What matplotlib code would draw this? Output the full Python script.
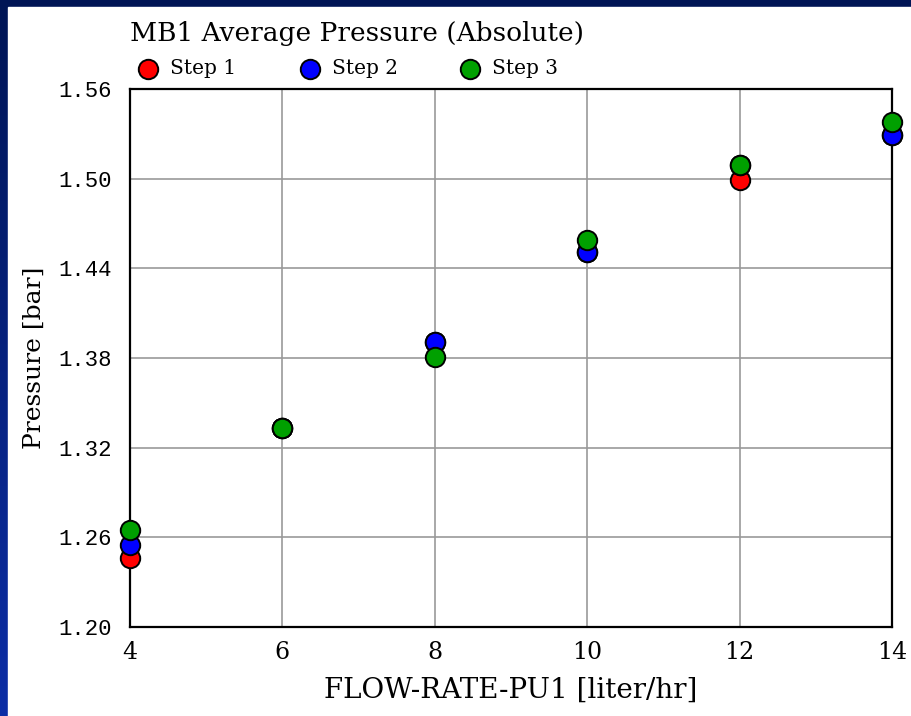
import matplotlib.pyplot as plt
import numpy as np
from matplotlib.patches import Rectangle
from matplotlib.colors import LinearSegmentedColormap

# flow rate [liter/hr] and pressure [bar] per step
flow = [4, 6, 8, 10, 12, 14]
step1 = [1.246, 1.333, 1.391, 1.451, 1.499, 1.529]
step2 = [1.255, 1.333, 1.391, 1.451, 1.509, 1.529]
step3 = [1.265, 1.333, 1.381, 1.459, 1.509, 1.538]
names = ['Step 1', 'Step 2', 'Step 3']
colors = ['#ff0000', '#0000ff', '#00a000']

W, H = 911, 716
fig = plt.figure(figsize=(W / 100, H / 100), dpi=100)

# blue gradient backdrop with a white panel on top
bg = fig.add_axes([0, 0, 1, 1])
grad = np.linspace(0, 1, 256).reshape(-1, 1)
cmap = LinearSegmentedColormap.from_list('bg', ['#0c2ea6', '#001555'])
bg.imshow(grad, aspect='auto', cmap=cmap, extent=[0, 1, 0, 1], origin='lower')
bg.add_patch(Rectangle((8 / W, 0), 1, 1 - 7 / H, color='white', transform=bg.transAxes))
bg.set_axis_off()

serif = 'DejaVu Serif'

ax = fig.add_axes([130 / W, 1 - 627 / H, (892 - 130) / W, (627 - 89) / H])
for ys, c in zip([step1, step2, step3], colors):
    ax.plot(flow, ys, linestyle='none', marker='o', markersize=14,
            markerfacecolor=c, markeredgecolor='black', markeredgewidth=1.4,
            clip_on=False, zorder=5)

ax.set_xlim(4, 14)
ax.set_ylim(1.20, 1.56)
ax.set_xticks(flow)
ax.set_yticks([1.20, 1.26, 1.32, 1.38, 1.44, 1.50, 1.56])
ax.set_xticklabels([str(v) for v in flow], family=serif, fontsize=17)
ax.set_yticklabels(['%.2f' % v for v in ax.get_yticks()], family='Liberation Mono', fontsize=16)
ax.tick_params(axis='y', length=0, pad=13)
ax.tick_params(axis='x', length=0, pad=10)
ax.grid(True, color='#999999', linewidth=1.2)
ax.set_axisbelow(True)
for s in ax.spines.values():
    s.set_linewidth(1.6)
    s.set_color('black')

ax.set_xlabel('FLOW-RATE-PU1 [liter/hr]', family=serif, fontsize=20, labelpad=9)
ax.set_ylabel('Pressure [bar]', family=serif, fontsize=18, labelpad=9)

fig.text(130 / W, 1 - 34 / H, 'MB1 Average Pressure (Absolute)', family=serif,
         fontsize=19, va='center', ha='left')

# legend row under the title
lx = [148, 310, 470]
for x, n, c in zip(lx, names, colors):
    fig.lines.append(plt.Line2D([x / W], [1 - 69 / H], transform=fig.transFigure,
                                marker='o', markersize=14, markerfacecolor=c,
                                markeredgecolor='black', markeredgewidth=1.4))
    fig.text((x + 22) / W, 1 - 69 / H, n, family=serif, fontsize=14.5,
             va='center', ha='left')

fig.savefig('out.png', dpi=100)
